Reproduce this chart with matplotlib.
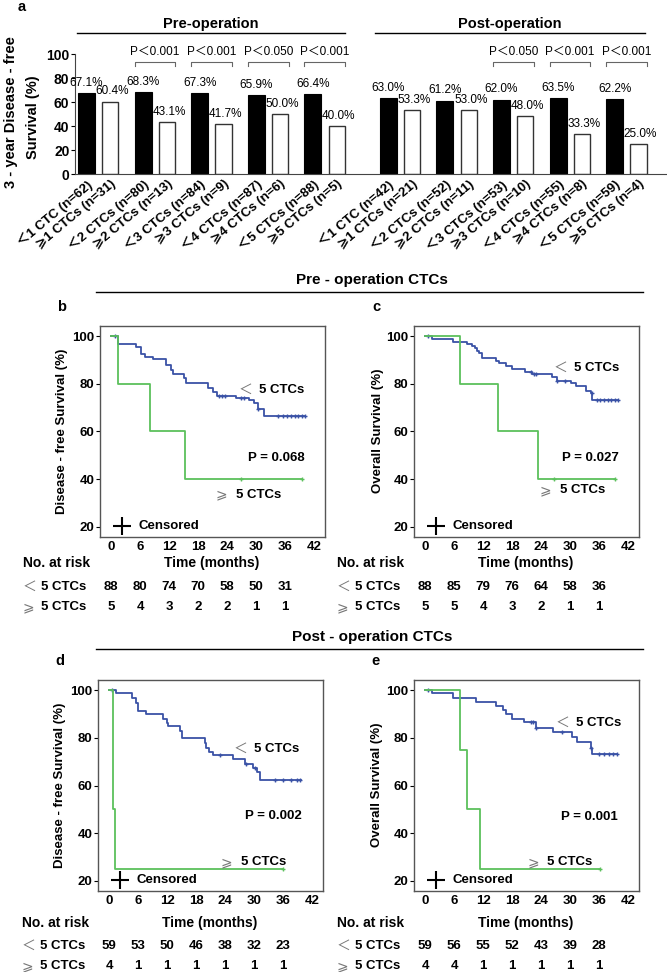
import numpy as np
import matplotlib
matplotlib.use("Agg")
import matplotlib.pyplot as plt
from matplotlib.lines import Line2D
from matplotlib.transforms import blended_transform_factory

plt.rcParams['font.family'] = ['Liberation Sans', 'DejaVu Sans', 'Noto Sans CJK SC']
plt.rcParams['font.weight'] = 'bold'

W, H = 667, 972

## panel a data ##
pre_labels = ["＜1 CTC (n=62)", "⩾1 CTCs (n=31)", "＜2 CTCs (n=80)", "⩾2 CTCs (n=13)",
              "＜3 CTCs (n=84)", "⩾3 CTCs (n=9)", "＜4 CTCs (n=87)", "⩾4 CTCs (n=6)",
              "＜5 CTCs (n=88)", "⩾5 CTCs (n=5)"]
post_labels = ["＜1 CTC (n=42)", "⩾1 CTCs (n=21)", "＜2 CTCs (n=52)", "⩾2 CTCs (n=11)",
               "＜3 CTCs (n=53)", "⩾3 CTCs (n=10)", "＜4 CTCs (n=55)", "⩾4 CTCs (n=8)",
               "＜5 CTCs (n=59)", "⩾5 CTCs (n=4)"]
pre_low = [67.1, 68.3, 67.3, 65.9, 66.4]
pre_high = [60.4, 43.1, 41.7, 50.0, 40.0]
post_low = [63.0, 61.2, 62.0, 63.5, 62.2]
post_high = [53.3, 53.0, 48.0, 33.3, 25.0]
pre_p = [None, "P＜0.001", "P＜0.001", "P＜0.050", "P＜0.001"]
post_p = [None, None, "P＜0.050", "P＜0.001", "P＜0.001"]

## KM data: step times (months) and survival (%) ##
b_lo_t = [0, 1.5, 5.2, 6.2, 7.0, 8.6, 11.4, 12.4, 12.9, 15.0, 15.5, 20.0, 21.1, 21.9, 25.9, 28.6, 29.5, 30.4, 31.7, 40.2]
b_lo_s = [100, 96.5, 95.3, 92.3, 91.1, 90.2, 87.9, 85.8, 84.0, 82.6, 80.5, 78.1, 76.7, 74.9, 73.9, 73.2, 71.8, 69.5, 66.3, 66.3]
b_lo_c = [0.8, 22.4, 23.0, 23.5, 26.9, 27.5, 30.5, 34.5, 35.5, 36.5, 37.2, 38.0, 38.8, 39.5, 40.2]
b_hi_t = [0, 1.4, 8.1, 15.4, 39.5]
b_hi_s = [100, 80, 60, 40, 40]
b_hi_c = [26.9, 39.5]
b_risk_lo = [88, 80, 74, 70, 58, 50, 31]
b_risk_hi = [5, 4, 3, 2, 2, 1, 1]

c_lo_t = [0, 1.4, 5.7, 8.6, 9.8, 10.4, 10.8, 11.2, 11.7, 14.6, 15.3, 16.7, 17.9, 20.7, 22.2, 26.2, 27.4, 30.2, 31.2, 33.4, 34.3, 34.6, 40.0]
c_lo_s = [100, 98.7, 97.5, 96.7, 95.9, 94.8, 93.8, 92.8, 90.7, 89.7, 88.8, 87.4, 86.1, 85.1, 84.1, 82.7, 81.2, 80.2, 79.2, 77.1, 76.3, 73.2, 73.2]
c_lo_c = [0.7, 22.0, 22.5, 23.0, 27.4, 29.0, 34.5, 35.5, 36.3, 37.0, 37.8, 38.5, 39.3, 40.0]
c_hi_t = [0, 7.2, 15.1, 23.3, 39.3]
c_hi_s = [100, 80, 60, 40, 40]
c_hi_c = [26.6, 39.3]
c_risk_lo = [88, 85, 79, 76, 64, 58, 36]
c_risk_hi = [5, 5, 4, 3, 2, 1, 1]

d_lo_t = [0, 1.4, 4.7, 5.5, 5.9, 7.7, 11.2, 11.9, 12.2, 14.6, 15.2, 19.9, 20.1, 20.7, 21.5, 25.7, 28.2, 29.7, 30.6, 31.3, 39.7]
d_lo_s = [100, 98.6, 96.8, 94.4, 91.4, 89.8, 87.9, 86.3, 84.9, 83.0, 79.8, 77.7, 75.9, 74.2, 72.7, 71.0, 69.0, 67.2, 65.8, 62.3, 62.3]
d_lo_c = [0.7, 22.9, 28.3, 30.2, 34.4, 36.0, 37.6, 39.0, 39.5]
d_hi_t = [0, 0.9, 1.3, 36.1]
d_hi_s = [100, 50, 25, 25]
d_hi_c = [36.1]
d_risk_lo = [59, 53, 50, 46, 38, 32, 23]
d_risk_hi = [4, 1, 1, 1, 1, 1, 1]

e_lo_t = [0, 1.4, 5.8, 10.5, 14.6, 16.2, 16.7, 18.1, 20.5, 22.9, 26.4, 30.4, 31.4, 34.3, 34.6, 39.8]
e_lo_s = [100, 98.6, 96.5, 94.8, 93.3, 91.6, 90.0, 88.0, 86.5, 84.2, 82.6, 80.2, 78.1, 75.6, 73.1, 73.1]
e_lo_c = [0.7, 21.9, 22.4, 22.9, 28.3, 34.3, 36.0, 37.0, 38.1, 39.0, 39.8]
e_hi_t = [0, 7.2, 8.6, 11.4, 36.2]
e_hi_s = [100, 75, 50, 25, 25]
e_hi_c = [36.2]
e_risk_lo = [59, 56, 55, 52, 43, 39, 28]
e_risk_hi = [4, 4, 1, 1, 1, 1, 1]

risk_times = [0, 6, 12, 18, 24, 30, 36]
BLUE = '#3a52a6'
GREEN = '#5cc05c'

fig = plt.figure(figsize=(W / 100, H / 100), dpi=100)


def fx(x):
    return x / W


def fy(y):
    return 1 - y / H


def hline(x0, x1, y):
    fig.add_artist(Line2D([fx(x0), fx(x1)], [fy(y), fy(y)], color='black', lw=1))


## panel a ##
ax = fig.add_axes([fx(75), fy(174), 592 / W, 120 / H])
period = 3.33
pair_x = np.array([k * period + (k // 5) * 1.1 for k in range(10)])
low = pre_low + post_low
high = pre_high + post_high
pvals = pre_p + post_p
ax.bar(pair_x, low, width=1.0, color='black', edgecolor='black', lw=0.8)
ax.bar(pair_x + 1.4, high, width=0.95, color='white', edgecolor='#333333', lw=1.0)
for x, v in zip(pair_x, low):
    ax.annotate(f"{v:.1f}%", (x, v), xytext=(0, 3), textcoords='offset points',
                ha='center', va='bottom', fontsize=8.5, fontweight='normal')
for x, v in zip(pair_x + 1.4, high):
    ax.annotate(f"{v:.1f}%", (x, v), xytext=(1.5, 3), textcoords='offset points',
                ha='center', va='bottom', fontsize=8.5, fontweight='normal')
for x, p in zip(pair_x, pvals):
    if p is None:
        continue
    x0, x1 = x - 0.5, x + 1.4 + 0.5
    ax.plot([x0, x0, x1, x1], [90, 93.3, 93.3, 90], color='#666666', lw=0.8, clip_on=False)
    ax.text((x0 + x1) / 2, 96.5, p, ha='center', va='bottom', fontsize=8.5,
            fontweight='normal')
ax.set_xlim(-0.68, 34.15)
ax.set_ylim(0, 100)
ax.set_yticks([0, 20, 40, 60, 80, 100])
ax.tick_params(axis='y', labelsize=10, length=3, pad=1)
ticks = np.ravel(np.column_stack([pair_x, pair_x + 1.4]))
ax.set_xticks(ticks)
ax.set_xticklabels(pre_labels + post_labels, rotation=40, ha='right', va='top',
                   rotation_mode='anchor', fontsize=9.5)
ax.tick_params(axis='x', length=0, pad=3)
for s in ['top', 'right']:
    ax.spines[s].set_visible(False)
for s in ['left', 'bottom']:
    ax.spines[s].set_color('#444444')
fig.text(fx(11), fy(112), "3 - year Disease - free", rotation=90, ha='center', va='center', fontsize=10.5)
fig.text(fx(33), fy(117), "Survival (%)", rotation=90, ha='center', va='center', fontsize=10.5)
fig.text(fx(22), fy(7), "a", ha='center', va='center', fontsize=10.5)
fig.text(fx(211), fy(24), "Pre-operation", ha='center', va='center', fontsize=10.5)
fig.text(fx(510), fy(24), "Post-operation", ha='center', va='center', fontsize=10.5)
hline(77, 345, 33)
hline(375, 645, 33)

## section headers ##
fig.text(fx(372), fy(280), "Pre - operation CTCs", ha='center', va='center', fontsize=11)
hline(96, 643, 292)
fig.text(fx(372), fy(637), "Post - operation CTCs", ha='center', va='center', fontsize=11)
hline(96, 643, 649)


def km_panel(left, top, letter, ylabel, ylab_x, lo, hi, risk_lo, risk_hi, pval,
             lab_lo, lab_hi, lab_p, rows, row_left):
    ax = fig.add_axes([fx(left), fy(top + 211), 225 / W, 211 / H])
    for (t, s, c), col in zip([lo, hi], [BLUE, GREEN]):
        t = np.array(t)
        s = np.array(s)
        ax.step(t, s, where='post', color=col, lw=1.3)
        c = np.array(c)
        cy = s[np.searchsorted(t, c, side='right') - 1]
        ax.plot(c, cy, ls='none', marker='+', ms=3.5, mew=1, color=col)
    ax.set_xlim(-2.3, 44.3)
    ax.set_ylim(15.8, 104.2)
    ax.set_xticks(risk_times + [42])
    ax.set_yticks([20, 40, 60, 80, 100])
    ax.tick_params(axis='y', labelsize=9.5, length=3, pad=1)
    ax.tick_params(axis='x', labelsize=9.5, length=0, pad=3)
    for sp in ax.spines.values():
        sp.set_color('#555555')
        sp.set_linewidth(1)
    # curve labels
    ax.text(lab_lo[0], lab_lo[2], "＜", ha='left', va='center', fontsize=10,
            fontweight='normal', color='#777777')
    ax.text(lab_lo[1], lab_lo[2], "5 CTCs", ha='right', va='center', fontsize=9.5)
    ax.text(lab_hi[0], lab_hi[2], "⩾", ha='left', va='center', fontsize=10,
            fontweight='normal', color='#777777')
    ax.text(lab_hi[1], lab_hi[2], "5 CTCs", ha='right', va='center', fontsize=9.5)
    ax.text(lab_p[0], lab_p[1], pval, ha='right', va='center', fontsize=9.5)
    ax.plot([2.3], [20.6], marker='+', ms=13, mew=1.5, color='black')
    ax.text(5.6, 20.6, "Censored", ha='left', va='center', fontsize=9.5)
    fig.text(fx(left - 38), fy(top - 19), letter, ha='center', va='center', fontsize=10.5)
    fig.text(fx(ylab_x), fy(top + 105), ylabel, rotation=90, ha='center', va='center', fontsize=9.5)
    # number at risk
    tr = blended_transform_factory(ax.transData, fig.transFigure)
    fig.text(fx(left + 112), fy(rows[0]), "Time (months)", ha='center', va='center', fontsize=10)
    fig.text(fx(row_left), fy(rows[0]), "No. at risk", ha='left', va='center', fontsize=10)
    fig.text(fx(row_left), fy(rows[1]), "＜", ha='left', va='center', fontsize=10,
             fontweight='normal', color='#777777')
    fig.text(fx(row_left + 18), fy(rows[1]), "5 CTCs", ha='left', va='center', fontsize=9.5)
    fig.text(fx(row_left), fy(rows[2]), "⩾", ha='left', va='center', fontsize=10,
             fontweight='normal', color='#777777')
    fig.text(fx(row_left + 18), fy(rows[2]), "5 CTCs", ha='left', va='center', fontsize=9.5)
    for t, n1, n2 in zip(risk_times, risk_lo, risk_hi):
        ax.text(t, fy(rows[1]), str(n1), transform=tr, ha='center', va='center', fontsize=9.5)
        ax.text(t, fy(rows[2]), str(n2), transform=tr, ha='center', va='center', fontsize=9.5)


km_panel(100, 326, "b", "Disease - free Survival (%)", 62,
         (b_lo_t, b_lo_s, b_lo_c), (b_hi_t, b_hi_s, b_hi_c), b_risk_lo, b_risk_hi, "P = 0.068",
         (26.3, 40.0, 77.4), (21.7, 35.3, 33.5), (40.0, 49.1), (563, 587, 607), 23)
km_panel(414, 326, "c", "Overall Survival (%)", 378,
         (c_lo_t, c_lo_s, c_lo_c), (c_hi_t, c_hi_s, c_hi_c), c_risk_lo, c_risk_hi, "P = 0.027",
         (26.7, 40.2, 86.5), (23.6, 37.3, 35.3), (40.2, 49.1), (563, 587, 607), 337)
km_panel(98, 680, "d", "Disease - free Survival (%)", 60,
         (d_lo_t, d_lo_s, d_lo_c), (d_hi_t, d_hi_s, d_hi_c), d_risk_lo, d_risk_hi, "P = 0.002",
         (25.7, 39.3, 75.4), (23.1, 36.6, 27.8), (40.0, 47.4), (923, 946, 966), 22)
km_panel(414, 680, "e", "Overall Survival (%)", 377,
         (e_lo_t, e_lo_s, e_lo_c), (e_hi_t, e_hi_s, e_hi_c), e_risk_lo, e_risk_hi, "P = 0.001",
         (27.0, 40.7, 86.3), (21.2, 34.6, 27.8), (39.8, 47.0), (923, 946, 966), 337)

fig.savefig("out.png", dpi=100)
